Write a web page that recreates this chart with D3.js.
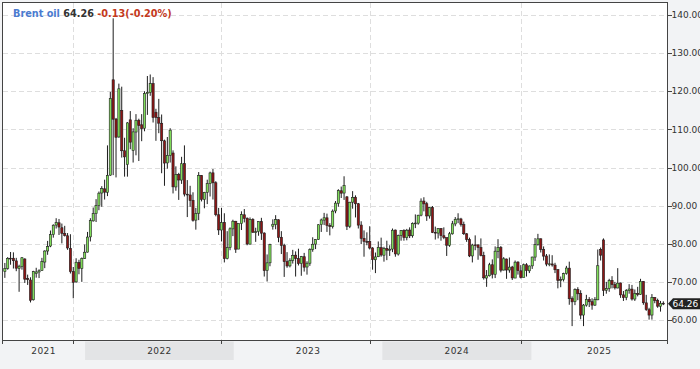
<!DOCTYPE html>
<html><head><meta charset="utf-8">
<script src="https://cdn.jsdelivr.net/npm/d3@7"></script>
<style>html,body{margin:0;padding:0;background:#f2f3f5;}svg{display:block;font-family:"DejaVu Sans",sans-serif;}</style>
</head><body><svg id="c" width="700" height="369"></svg>
<script>
// ---- data (weekly candles, [open, high, low, close]) ----
const firstWeek = "2021-06-18";
const ohlc2021 = [
[72.7,74.96,71.05,73.51],[73.5,76.5,73.2,76.18],[76.2,77.84,74.5,76.17],[76.2,77.75,73.5,75.55],
[75.5,76.3,72.8,73.59],[73.5,74.5,67.4,74.10],[74.0,76.5,73.2,76.33],[76.0,76.2,69.7,70.70],
[70.9,71.9,69.2,70.59],[70.5,71.2,64.6,65.18],[65.3,72.9,65.1,72.70],[72.2,73.7,71.1,72.61],
[72.6,73.3,71.0,72.92],[73.0,76.3,72.9,75.34],[75.2,78.3,73.6,78.09],[78.1,80.75,77.1,79.28],
[79.4,83.47,79.1,82.39],[82.4,85.1,81.6,84.86],[84.9,86.7,84.0,85.53],[85.5,86.5,82.3,84.38],
[84.2,85.3,80.1,82.74],[82.7,84.7,81.9,82.17],[82.1,82.8,78.4,78.89],[78.8,82.5,72.2,72.72],
[72.7,73.9,65.7,69.88],[70.0,76.2,69.8,75.15],[75.1,75.8,72.0,73.52],[73.5,76.4,70.0,76.14],
[76.1,79.8,76.0,77.78]];
const ohlc2022 = [
[77.8,83.1,77.7,81.75],[81.8,86.7,80.6,86.06],[86.0,89.5,85.8,87.89],[87.9,91.7,85.7,90.03],
[90.0,93.7,88.8,93.27],[93.3,95.1,89.7,94.44],[94.4,96.8,91.6,93.54],[93.5,105.8,92.5,97.93],
[98.0,119.84,97.8,118.11],[123.0,139.13,98.0,112.67],[112.7,113.0,97.4,107.93],[108.0,122.0,107.8,120.65],
[115.0,121.2,102.6,104.39],[104.4,107.8,97.6,102.78],[100.8,111.9,97.6,111.70],[112.5,114.8,104.8,106.65],
[104.5,110.3,101.3,109.34],[109.3,114.0,103.2,112.39],[112.4,112.8,101.7,111.0],[111.2,114.0,106.9,110.2],
[110.3,120.0,109.5,119.43],[119.4,124.0,113.8,119.72],[119.7,124.4,118.8,122.01],[122.0,123.7,111.8,113.12],
[114.5,115.4,107.0,113.12],[113.1,118.0,109.0,111.63],[111.6,113.9,98.5,107.02],[107.0,107.3,95.2,101.16],
[101.2,108.0,99.7,103.20],[103.2,110.3,101.3,109.8],[103.8,104.5,93.2,94.92],[94.9,100.3,93.9,98.15],
[98.2,98.6,91.5,96.72],[96.7,102.8,95.7,100.99],[101.0,105.8,92.4,93.02],[93.0,96.7,87.0,92.84],
[92.8,95.2,89.7,91.35],[91.4,93.5,85.8,86.15],[86.2,89.4,83.7,87.96],[88.0,98.8,86.2,97.92],
[97.9,98.0,91.1,91.63],[91.6,93.6,89.3,93.50],[93.5,96.8,90.4,95.77],[95.8,98.9,92.4,98.57],
[98.6,99.6,91.6,95.99],[96.0,96.4,87.2,87.62],[87.6,89.4,82.3,83.63],[83.6,89.4,80.6,85.57],
[85.6,88.0,75.1,76.10],[76.1,83.3,75.9,79.04],[79.0,84.3,78.3,83.92],[83.9,86.3,82.0,85.91]];
const ohlc2023 = [
[85.9,86.0,77.6,78.57],[78.6,85.3,78.6,85.28],[85.3,88.5,83.6,87.63],[87.6,89.1,85.6,86.66],
[86.7,86.9,79.6,79.94],[79.9,86.9,79.8,86.39],[86.4,86.7,82.9,83.00],[83.0,84.2,80.5,83.16],
[83.2,85.9,82.1,85.83],[85.8,86.8,81.0,82.78],[82.8,83.0,71.4,72.97],[73.0,77.2,70.1,74.99],
[75.0,80.0,74.1,79.77],[84.6,86.4,83.7,85.12],[85.0,87.5,83.8,86.31],[86.3,86.4,80.4,81.66],
[81.7,83.3,77.3,79.54],[79.5,80.0,71.3,75.30],[75.3,77.8,73.7,74.17],[74.2,76.2,73.8,75.58],
[75.6,78.4,74.8,76.95],[77.0,78.0,71.4,76.13],[76.1,78.7,74.3,74.79],[74.8,76.8,71.6,76.61],
[76.6,77.6,72.7,73.85],[73.9,75.4,71.9,74.90],[74.9,78.8,74.2,78.47],[78.5,81.7,77.9,79.87],
[79.9,81.2,78.6,81.07],[81.1,85.1,81.0,84.99],[85.0,86.6,83.1,86.24],[86.2,88.1,84.9,86.81],
[86.8,87.9,83.1,84.80],[84.8,85.4,82.2,84.48],[84.5,89.0,84.0,88.55],[88.6,91.2,88.0,90.65],
[90.6,94.3,89.7,93.93],[93.9,95.0,92.0,93.27],[93.3,97.7,91.5,95.31],[92.3,92.5,83.6,84.58],
[84.6,91.0,84.1,90.89],[90.9,93.8,89.2,92.16],[92.2,92.7,86.9,90.48],[90.5,90.7,84.0,84.89],
[84.9,85.9,79.9,81.43],[81.4,83.5,76.6,80.61],[80.6,83.0,79.6,80.58],[80.6,84.6,78.5,78.88],
[78.9,79.1,73.2,75.84],[75.8,77.7,72.3,76.55],[76.6,80.6,76.5,79.07],[79.0,81.6,76.6,77.04]];
const ohlc2024 = [
[77.0,79.2,75.3,78.76],[78.8,80.8,75.7,78.29],[78.3,79.6,76.8,78.56],[78.6,84.0,77.8,83.55],
[83.6,83.7,76.6,77.33],[77.3,82.4,76.9,82.19],[82.2,83.6,80.8,83.47],[83.5,83.8,80.8,81.62],
[81.6,83.9,80.9,83.55],[83.6,84.3,81.5,82.08],[82.1,85.6,81.6,85.34],[85.3,87.7,84.1,85.43],
[85.4,87.6,85.0,87.48],[87.5,91.9,87.2,91.17],[91.2,92.2,88.5,90.45],[90.5,91.0,86.0,87.29],
[87.3,89.6,86.6,89.50],[89.5,89.9,82.8,82.96],[83.0,84.5,81.1,82.79],[82.8,84.1,81.4,83.98],
[84.0,84.1,80.8,82.12],[82.1,84.3,81.2,81.62],[81.6,81.6,76.8,79.62],[79.6,83.1,79.2,82.62],
[82.6,86.0,82.4,85.24],[85.2,87.0,84.6,86.41],[86.4,88.0,85.4,86.54],[86.5,86.8,84.5,85.03],
[85.0,85.8,82.3,82.63],[82.6,82.8,80.5,81.13],[81.1,81.6,76.5,76.81],[76.8,80.0,75.1,79.66],
[79.7,82.2,78.3,79.68],[79.7,79.8,75.8,79.02],[79.0,81.4,76.7,76.93],[76.9,77.9,70.6,71.06],
[71.0,73.1,68.7,71.61],[71.6,75.0,71.4,74.49],[74.5,75.9,70.9,71.98],[72.0,79.3,71.0,78.05],
[78.0,81.2,76.2,79.04],[79.0,79.4,72.5,73.06],[73.1,76.5,73.0,76.05],[76.0,76.1,70.8,73.10],
[73.1,76.4,72.4,73.87],[73.9,74.2,70.5,71.04],[71.0,75.6,71.0,75.17],[75.2,75.4,71.9,72.94],
[72.9,74.4,70.9,71.12],[71.1,74.8,71.3,74.49],[74.5,74.9,71.4,72.94],[72.9,74.3,72.3,74.17]];
const ohlc2025 = [
[74.2,76.6,73.4,76.51],[76.5,81.5,75.5,79.76],[79.8,82.6,79.5,81.29],[81.3,81.4,77.7,78.50],
[78.5,79.3,75.6,76.76],[76.8,77.3,74.1,74.66],[74.7,77.2,74.1,74.74],[74.7,77.0,74.0,74.43],
[74.4,75.0,72.3,73.18],[73.2,73.3,68.3,70.36],[70.4,71.4,68.6,70.58],[70.6,72.4,70.1,72.16],
[72.2,74.2,71.9,73.63],[73.6,75.3,64.0,65.58],[65.6,66.2,58.4,64.76],[64.8,68.3,63.9,67.96],
[68.0,68.6,65.2,66.87],[66.9,67.8,60.2,61.29],[61.3,64.2,58.4,63.91],[63.9,66.6,63.5,65.41],
[65.4,66.0,63.4,64.78],[64.8,65.7,62.7,63.90],[63.9,66.0,63.7,65.34],[65.3,78.5,65.2,74.23],
[78.5,79.0,75.6,77.01],[81.0,81.4,66.3,67.77],[67.8,70.0,66.9,68.30],[68.3,70.8,67.4,70.36],
[70.4,71.5,68.3,69.28],[69.3,70.0,68.0,68.44],[68.4,73.6,68.3,69.67],[69.7,69.8,65.8,66.59],
[66.6,67.6,65.0,65.85],[65.9,68.1,65.2,67.73],[67.7,69.4,66.9,68.12],[68.1,69.2,65.1,65.50],
[65.5,68.0,65.0,66.99],[67.0,68.7,66.2,66.68],[66.7,70.8,66.6,70.13],[70.1,70.2,64.0,64.53],
[64.5,66.6,62.4,62.73],[62.7,63.2,60.1,61.29],[61.3,66.8,60.1,65.94],[65.9,66.0,64.4,65.07],
[65.1,65.6,63.2,63.63],[63.6,65.0,62.2,64.39],[64.4,64.9,63.9,64.26]];

const yTicks = [60, 70, 80, 90, 100, 110, 120, 130, 140];
const yearLabels = ["2021", "2022", "2023", "2024", "2025"];
const shadedYears = ["2022", "2024"];
const tickWeeks = ["2021-12-03", "2022-12-02", "2023-12-01", "2024-12-06"];
const titleName = "Brent oil", titleLast = "64.26", titleChange = "-0.13(-0.20%)";
const lastPrice = 64.26;

// ---- layout ----
const L = 2.5, R = 667.5, T = 2.5, B = 340.5;
const parse = d3.utcParse("%Y-%m-%d");
const rows = [].concat(ohlc2021, ohlc2022, ohlc2023, ohlc2024, ohlc2025);
const candles = rows.map((r, i) => ({date: d3.utcWeek.offset(parse(firstWeek), i), o: r[0], h: r[1], l: r[2], c: r[3]}));

const x = d3.scaleUtc().domain([parse("2021-06-11"), parse("2025-11-30")]).range([2, 667]);
const y = d3.scaleLinear().domain([60, 140]).range([320, 15]);

const svg = d3.select("#c");
svg.append("rect").attr("width", 700).attr("height", 369).attr("fill", "#f2f3f5");
svg.append("rect").attr("x", L).attr("y", T).attr("width", R - L).attr("height", B - T).attr("fill", "#fff");

// year bands + labels
const [d0, d1] = x.domain();
yearLabels.forEach(yr => {
  const s = new Date(Math.max(+d0, +parse(yr + "-01-01")));
  const e = new Date(Math.min(+d1, +parse((+yr + 1) + "-01-01")));
  const xs = x(s), xe = x(e);
  if (shadedYears.includes(yr)) {
    svg.append("rect").attr("x", xs).attr("y", 341.5).attr("width", xe - xs).attr("height", 18.5).attr("fill", "#e3e4e6");
  }
  svg.append("text").attr("x", (xs + xe) / 2).attr("y", 350.5).attr("dy", "0.35em")
    .attr("text-anchor", "middle").attr("font-size", 9).attr("letter-spacing", 0.4).attr("fill", "#333").text(yr);
});

// grid
const grid = svg.append("g").attr("stroke", "#dedede").attr("stroke-dasharray", "5,3").attr("shape-rendering", "crispEdges");
yTicks.forEach(v => grid.append("line").attr("x1", L).attr("x2", R).attr("y1", Math.round(y(v)) + 0.5).attr("y2", Math.round(y(v)) + 0.5));
tickWeeks.forEach(d => { const xv = Math.round(x(parse(d))) + 0.5; grid.append("line").attr("x1", xv).attr("x2", xv).attr("y1", T).attr("y2", B); });

// candles
svg.append("clipPath").attr("id", "clip").append("rect").attr("x", L).attr("y", T).attr("width", R - L).attr("height", B - T);
const cg = svg.append("g").attr("clip-path", "url(#clip)");
candles.forEach(d => {
  const xc = x(d.date);
  cg.append("line").attr("x1", xc).attr("x2", xc).attr("y1", y(d.h)).attr("y2", y(d.l)).attr("stroke", "#1e1e1e").attr("stroke-width", 1);
  const top = y(Math.max(d.o, d.c)), bot = y(Math.min(d.o, d.c));
  cg.append("rect").attr("x", xc - 1.1).attr("width", 2.2).attr("y", top).attr("height", Math.max(0.8, bot - top))
    .attr("fill", d.c >= d.o ? "#80de5a" : "#8c1515").attr("stroke", "#1e1e1e").attr("stroke-width", 0.6);
});

// frame
svg.append("rect").attr("x", L).attr("y", T).attr("width", R - L).attr("height", B - T).attr("fill", "none")
  .attr("stroke", "#444").attr("stroke-width", 1).attr("shape-rendering", "crispEdges");
const ax = svg.append("g").attr("stroke", "#444").attr("shape-rendering", "crispEdges");
[L, R].concat(tickWeeks.map(d => Math.round(x(parse(d))) + 0.5)).forEach(xv =>
  ax.append("line").attr("x1", xv).attr("x2", xv).attr("y1", B).attr("y2", B + 3));
yTicks.forEach(v => ax.append("line").attr("x1", R).attr("x2", R + 4).attr("y1", Math.round(y(v)) + 0.5).attr("y2", Math.round(y(v)) + 0.5));

// right axis labels
yTicks.forEach(v => svg.append("text").attr("x", 671.5).attr("y", y(v)).attr("dy", "0.35em")
  .attr("font-size", 9).attr("fill", "#333").text(d3.format(".2f")(v)));

// last price marker
const yp = y(lastPrice);
svg.append("path").attr("d", `M668,${yp} L673,${yp - 5.5} L700,${yp - 5.5} L700,${yp + 5.5} L673,${yp + 5.5} Z`).attr("fill", "#222");
svg.append("text").attr("x", 672.5).attr("y", yp).attr("dy", "0.35em").attr("font-size", 9).attr("fill", "#fff").text(d3.format(".2f")(lastPrice));

// title
const t = svg.append("text").attr("x", 13).attr("y", 17).attr("font-size", 9.7).attr("font-weight", "bold");
t.append("tspan").attr("fill", "#4b7bd0").text(titleName);
t.append("tspan").attr("fill", "#333").text(" " + titleLast);
t.append("tspan").attr("fill", "#c4391d").text(" " + titleChange);
</script></body></html>
